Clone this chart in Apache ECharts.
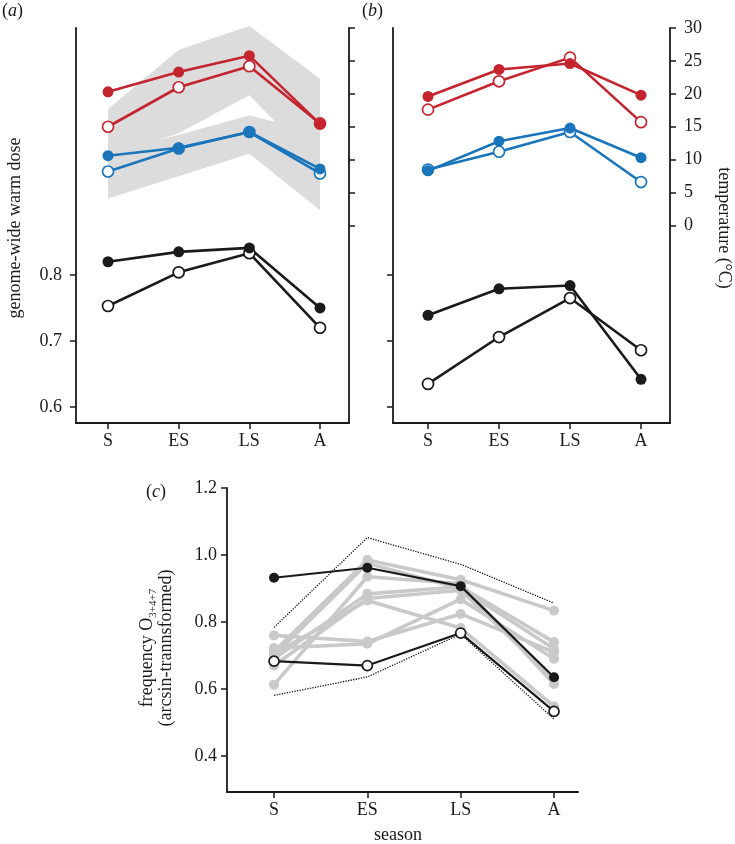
<!DOCTYPE html>
<html>
<head>
<meta charset="utf-8">
<script src="https://cdn.jsdelivr.net/npm/echarts@6/dist/echarts.min.js"></script>
<style>
  html, body { margin: 0; padding: 0; background: #fff; }
  #main { width: 735px; height: 844px; }
</style>
</head>
<body>
<div id="main"></div>
<script>
const seasons = ['S', 'ES', 'LS', 'A'];

// (a) temperature curves (deg C) and warm dose
const aRedFilled = [20.3, 23.3, 25.8, 15.4];
const aRedOpen = [15.0, 21.0, 24.2, 15.5];
const aBlueFilled = [10.6, 11.8, 14.2, 8.6];
const aBlueOpen = [8.2, 11.7, 14.2, 7.9];
const aBlackFilled = [0.820, 0.835, 0.841, 0.750];
const aBlackOpen = [0.753, 0.804, 0.833, 0.720];
const bandUpperTop = [17.7, 26.7, 30.3, 22.3];
const bandUpperBottom = [10.5, 14.0, 19.8, 8.8];
const bandLowerTop = [11.0, 13.8, 16.7, 14.1];
const bandLowerBottom = [4.1, 7.5, 10.9, 2.3];

// (b)
const bRedFilled = [19.6, 23.7, 24.6, 19.8];
const bRedOpen = [17.6, 21.9, 25.5, 15.7];
const bBlueFilled = [8.3, 12.8, 14.8, 10.3];
const bBlueOpen = [8.5, 11.2, 14.2, 6.6];
const bBlackFilled = [0.739, 0.779, 0.784, 0.642];
const bBlackOpen = [0.635, 0.706, 0.765, 0.686];

// (c) frequency O3+4+7
const cBlackFilled = [0.932, 0.962, 0.907, 0.635];
const cBlackOpen = [0.683, 0.670, 0.767, 0.533];
const cDotUpper = [0.784, 1.052, 0.972, 0.856];
const cDotLower = [0.581, 0.636, 0.764, 0.510];
const cGray = [
  [0.760, 0.742, 0.824, 0.710],
  [0.722, 0.735, 0.868, 0.690],
  [0.712, 0.985, 0.926, 0.834],
  [0.700, 0.975, 0.900, 0.720],
  [0.690, 0.884, 0.905, 0.740],
  [0.670, 0.870, 0.895, 0.628],
  [0.613, 0.935, 0.915, 0.615],
  [0.705, 0.864, 0.782, 0.548]
];

const doseTicks = [0.6, 0.7, 0.8];
const tempTicks = [0, 5, 10, 15, 20, 25, 30];
const freqTicks = [0.4, 0.6, 0.8, 1.0, 1.2];

const FONT = 'Liberation Serif';
const INK = '#1a1a1a';
const RED = '#c4242e';
const BLUE = '#1b75bb';
const GRAY = '#c9c9c9';
const BAND = '#dcdcdc';

function pts(values) { return values.map((v, i) => [i, v]); }

function lineSeries(values, xi, yi, color, open, width, size, z) {
  return {
    type: 'line', xAxisIndex: xi, yAxisIndex: yi, data: pts(values),
    symbol: 'circle', symbolSize: size, z: z, silent: true,
    lineStyle: { color: color, width: width },
    itemStyle: open
      ? { color: '#fff', borderColor: color, borderWidth: 1.7 }
      : { color: color, borderWidth: 0 }
  };
}

function dotted(values) {
  return {
    type: 'line', xAxisIndex: 2, yAxisIndex: 4, data: pts(values),
    symbol: 'none', z: 4, silent: true,
    lineStyle: { color: INK, width: 1.3, type: 'dotted' }
  };
}

function band(top, bottom, xi, yi) {
  return {
    type: 'custom', xAxisIndex: xi, yAxisIndex: yi, silent: true, z: 1,
    data: seasons.map((s, i) => [i, top[i], bottom[i]]),
    encode: { x: 0, y: [1, 2] },
    renderItem: function (params, api) {
      if (params.dataIndex !== 0) return;
      const poly = [];
      top.forEach((v, i) => poly.push(api.coord([i, v])));
      for (let i = bottom.length - 1; i >= 0; i--) poly.push(api.coord([i, bottom[i]]));
      return { type: 'polygon', shape: { points: poly }, style: { fill: BAND } };
    }
  };
}

function xAx(grid, min, max) {
  return {
    type: 'value', gridIndex: grid, min: min, max: max,
    axisLine: { show: true, onZero: false, lineStyle: { color: INK, width: 1.8 } },
    axisTick: { show: true, customValues: [0, 1, 2, 3], length: 6, lineStyle: { color: INK, width: 1.5 } },
    axisLabel: { customValues: [0, 1, 2, 3], formatter: v => seasons[v], fontFamily: FONT, fontSize: 18, color: INK, margin: 9 },
    splitLine: { show: false }
  };
}

function yAx(grid, pos, min, max, ticks, labels, fmt, margin) {
  return {
    type: 'value', gridIndex: grid, position: pos, min: min, max: max,
    axisLine: { show: true, onZero: false, lineStyle: { color: INK, width: 1.8 } },
    axisTick: { show: true, customValues: ticks, length: 6, lineStyle: { color: INK, width: 1.5 } },
    axisLabel: { show: labels, customValues: ticks, formatter: fmt, fontFamily: FONT, fontSize: 18, color: INK, margin: margin },
    splitLine: { show: false }
  };
}

const one = v => v.toFixed(1);
const txt = { fontFamily: FONT, fontSize: 18, fill: INK };
const tag = { fontStyle: 'italic', fontFamily: FONT, fontSize: 18 };

const series = [
  band(bandUpperTop, bandUpperBottom, 0, 1),
  band(bandLowerTop, bandLowerBottom, 0, 1),
  lineSeries(aRedOpen, 0, 1, RED, true, 2.6, 11, 5),
  lineSeries(aRedFilled, 0, 1, RED, false, 2.6, 11, 5),
  lineSeries(aBlueOpen, 0, 1, BLUE, true, 2.6, 11, 5),
  lineSeries(aBlueFilled, 0, 1, BLUE, false, 2.6, 11, 5),
  lineSeries(aBlackOpen, 0, 0, INK, true, 2.6, 11, 5),
  lineSeries(aBlackFilled, 0, 0, INK, false, 2.6, 11, 5),

  lineSeries(bRedOpen, 1, 3, RED, true, 2.6, 11, 5),
  lineSeries(bRedFilled, 1, 3, RED, false, 2.6, 11, 5),
  lineSeries(bBlueOpen, 1, 3, BLUE, true, 2.6, 11, 5),
  lineSeries(bBlueFilled, 1, 3, BLUE, false, 2.6, 11, 5),
  lineSeries(bBlackOpen, 1, 2, INK, true, 2.6, 11, 5),
  lineSeries(bBlackFilled, 1, 2, INK, false, 2.6, 11, 5)
];
cGray.forEach(g => series.push(lineSeries(g, 2, 4, GRAY, false, 3.6, 10, 3)));
series.push(dotted(cDotUpper), dotted(cDotLower));
series.push(lineSeries(cBlackFilled, 2, 4, INK, false, 2.2, 10, 6));
series.push(lineSeries(cBlackOpen, 2, 4, INK, true, 2.2, 10, 6));

const chart = echarts.init(document.getElementById('main'));
chart.setOption({
  animation: false,
  backgroundColor: '#fff',
  grid: [
    { left: 76, top: 28, width: 273, height: 395 },
    { left: 393, top: 28, width: 277, height: 395 },
    { left: 227, top: 488, width: 351, height: 304 }
  ],
  xAxis: [
    xAx(0, -0.453, 3.41),
    xAx(1, -0.493, 3.408),
    xAx(2, -0.504, 3.257)
  ],
  yAxis: [
    yAx(0, 'left', 0.5758, 1.174, doseTicks, true, one, 14),
    yAx(0, 'right', -30, 30, tempTicks, false, String, 14),
    yAx(1, 'left', 0.5758, 1.174, doseTicks, false, one, 14),
    yAx(1, 'right', -30, 30, tempTicks, true, String, 14),
    yAx(2, 'left', 0.2925, 1.2, freqTicks, true, one, 10)
  ],
  graphic: [
    { type: 'text', x: 2, y: 2, style: Object.assign({ text: '({i|a})', rich: { i: tag } }, txt) },
    { type: 'text', x: 362, y: 2, style: Object.assign({ text: '({i|b})', rich: { i: tag } }, txt) },
    { type: 'text', x: 146, y: 483, style: Object.assign({ text: '({i|c})', rich: { i: tag } }, txt) },
    { type: 'text', x: 15, y: 228, rotation: Math.PI / 2, style: Object.assign({ text: 'genome-wide warm dose', align: 'center', verticalAlign: 'middle' }, txt) },
    { type: 'text', x: 724, y: 228, rotation: -Math.PI / 2, style: Object.assign({ text: 'temperature (°C)', align: 'center', verticalAlign: 'middle' }, txt) },
    { type: 'text', x: 147, y: 648, rotation: Math.PI / 2, style: Object.assign({ text: 'frequency O{s|3+4+7}', align: 'center', verticalAlign: 'middle', rich: { s: { fontFamily: FONT, fontSize: 11, padding: [12, 0, 0, 0] } } }, txt) },
    { type: 'text', x: 166, y: 648, rotation: Math.PI / 2, style: Object.assign({ text: '(arcsin-trannsformed)', align: 'center', verticalAlign: 'middle' }, txt) },
    { type: 'text', x: 398, y: 835, style: Object.assign({ text: 'season', align: 'center', verticalAlign: 'middle' }, txt) }
  ],
  series: series
});
</script>
</body>
</html>
